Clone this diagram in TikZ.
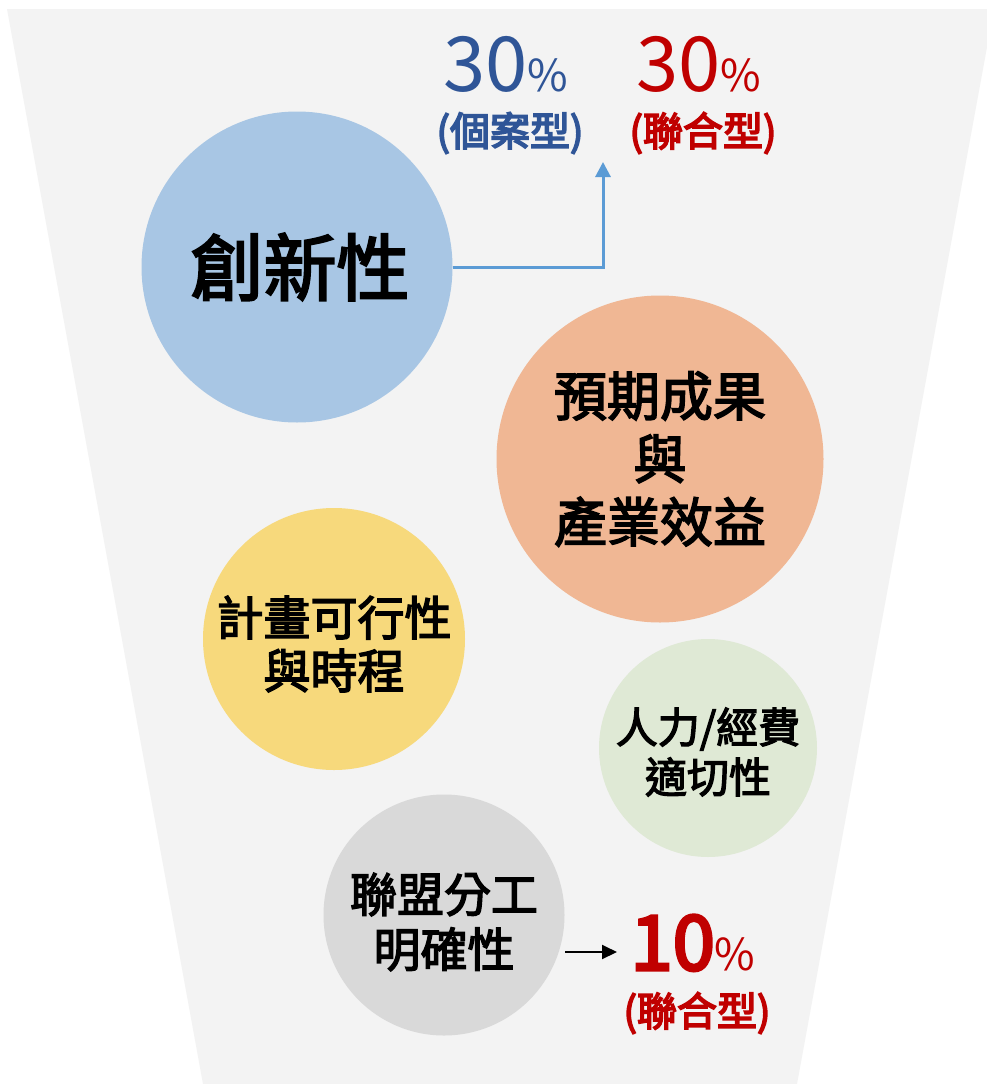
\documentclass[tikz,border=0pt]{standalone}
\usepackage{fontspec}
\setmainfont{Noto Sans CJK TC}
\newfontfamily\semib[FakeBold=3]{Noto Sans CJK TC}
\newfontfamily\semibb[FakeBold=4]{Noto Sans CJK TC}
\usetikzlibrary{arrows.meta}
\definecolor{bgc}{HTML}{F3F3F3}
\definecolor{cblue}{HTML}{A8C6E4}
\definecolor{corange}{HTML}{F0B794}
\definecolor{cyellow}{HTML}{F7D97C}
\definecolor{cgreen}{HTML}{DFE9D5}
\definecolor{cgray}{HTML}{D9D9D9}
\definecolor{tblue}{HTML}{2F5597}
\definecolor{tred}{HTML}{C00000}
\definecolor{ablue}{HTML}{5B9BD5}
\newcommand{\fs}[2]{\fontsize{#1}{#2}\selectfont}
\tikzset{
  disc/.style={circle, inner sep=0pt, draw=none},
  ctext/.style={align=center, inner sep=0pt, text=black, font=\semib},
  pct/.style={inner sep=0pt, anchor=base},
  kind/.style={inner sep=0pt, font=\semibb\fs{40}{48}},
}
\begin{document}
\begin{tikzpicture}[x=1pt,y=-1pt]
\useasboundingbox (0,0) rectangle (987,1084);
\fill[white] (0,0) rectangle (987,1084);
% funnel background
\fill[bgc] (7,9) -- (994,9) -- (797,1084) -- (203,1084) -- cycle;

% circles
\node[disc, fill=cblue, minimum size=311pt] (cre) at (297,267) {};
\node[disc, fill=corange, minimum size=327pt] (res) at (660,459) {};
\node[disc, fill=cyellow, minimum size=262pt] (fea) at (334,639) {};
\node[disc, fill=cgreen, minimum size=218pt] (man) at (708,748) {};
\node[disc, fill=cgray, minimum size=241pt] (ali) at (444,915) {};

% circle texts
\node[ctext, font=\semib\fs{73}{80}] (creT) at (300,267) {創新性};
\node[ctext, font=\semib\fs{53}{63}] (resT) at (res.center) {預期成果\\與\\產業效益};
\node[ctext, font=\semib\fs{47}{53}] (feaT) at (334,644) {計畫可行性\\與時程};
\node[ctext, font=\semib\fs{42}{50}] (manT) at (708,752) {人力/經費\\適切性};
\node[ctext, font=\semib\fs{47}{55}] (aliT) at (444,922) {聯盟分工\\明確性};

% percentage labels
\node[pct, text=tblue] (p1) at (506,91) {\fs{76}{80}30\fs{44}{48}\%};
\node[kind, text=tblue] (k1) at (510,133) {(個案型)};
\node[pct, text=tred] (p2) at (699,91) {\fs{76}{80}30\fs{44}{48}\%};
\node[kind, text=tred] (k2) at (703,133) {(聯合型)};
\node[pct, text=tred] (p3) at (693,970) {{\semibb\fs{76}{80}10}\fs{44}{48}\%};
\node[kind, text=tred] (k3) at (697,1013) {(聯合型)};

% connectors
\coordinate (tipA) at (603,162);
\draw[ablue, line width=3pt, -{Triangle[length=15pt,width=15pt]}] (cre.east) -| (tipA);
\coordinate (startB) at (565,952);
\coordinate (tipB) at (617,952);
\draw[black, line width=2pt, -{Triangle[length=15pt,width=14pt]}] (startB) -- (tipB);
\end{tikzpicture}
\end{document}
